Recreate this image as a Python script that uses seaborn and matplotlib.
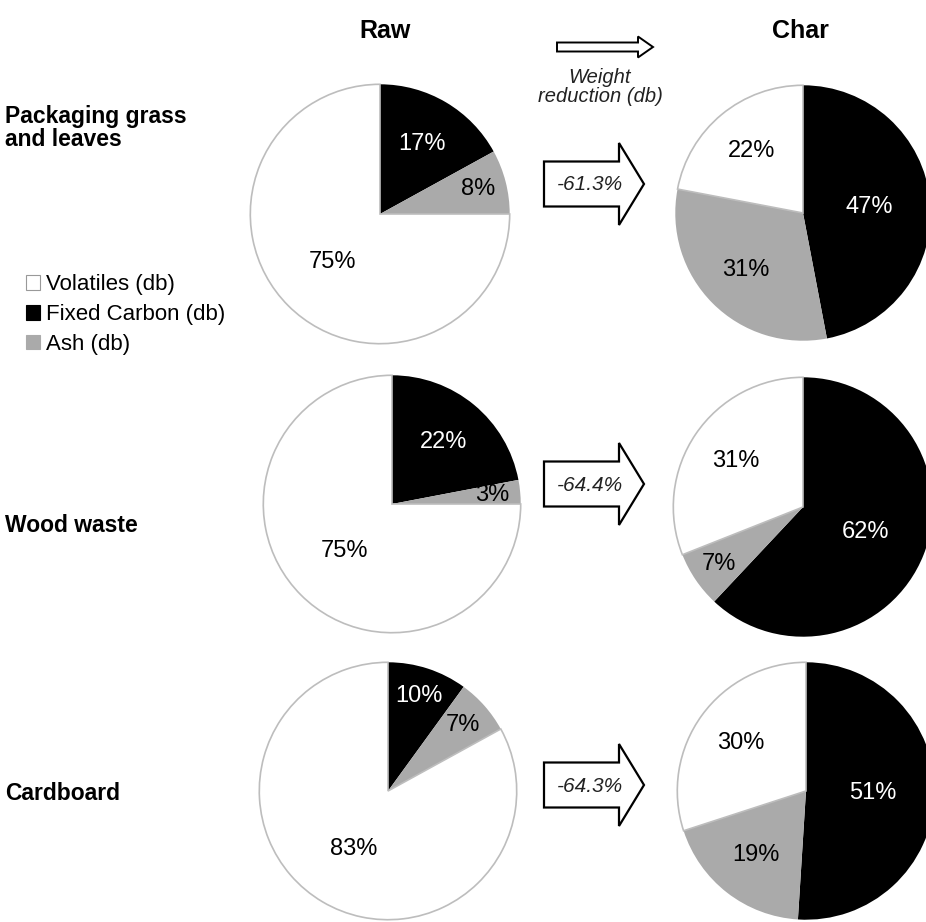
import matplotlib
matplotlib.use("Agg")
import numpy as np
from matplotlib import pyplot as plt
from matplotlib.patches import Patch, Polygon
import seaborn

# data
materials = ["Packaging grass\nand leaves", "Wood waste", "Cardboard"]
components = ["Fixed Carbon (db)", "Ash (db)", "Volatiles (db)"]
legend_order = ["Volatiles (db)", "Fixed Carbon (db)", "Ash (db)"]

raw_fixed_carbon = [17, 22, 10]
raw_ash = [8, 3, 7]
raw_volatiles = [75, 75, 83]

char_fixed_carbon = [47, 62, 51]
char_ash = [31, 7, 19]
char_volatiles = [22, 31, 30]

weight_reduction = [-61.3, -64.4, -64.3]

# style
W, H = 926, 922
colors = {"Fixed Carbon (db)": "black", "Ash (db)": "#aaaaaa", "Volatiles (db)": "white"}
label_colors = {"Fixed Carbon (db)": "white", "Ash (db)": "black", "Volatiles (db)": "black"}
edge = "#bdbdbd"

seaborn.set_theme(style="white")
plt.rcParams["font.family"] = ["Liberation Sans", "DejaVu Sans"]
plt.rcParams["text.color"] = "black"

fig = plt.figure(figsize=(W / 100, H / 100), dpi=100)

# pixel layout of the pies (centre x, centre y, radius)
raw_pos = [(380, 214, 131), (392, 504, 130), (388, 791, 130)]
char_pos = [(803, 213, 129), (803, 507, 131), (806, 791, 130)]
arrow_y = [184, 484, 785]
label_y = [128, 525, 793]


def pie_axes(cx, cy, r):
    return fig.add_axes([(cx - r) / W, 1 - (cy + r) / H, 2 * r / W, 2 * r / H])


def label_radius(pct):
    # excel-like placement: big slices nearer the centre, tiny ones near the rim
    if pct >= 45:
        return 0.52
    if pct <= 10:
        return 0.78
    return 0.63


def draw_pie(ax, values):
    wedges, _, autotexts = ax.pie(
        values,
        colors=[colors[c] for c in components],
        startangle=90,
        counterclock=False,
        autopct="%d%%",
        radius=1,
        wedgeprops=dict(linewidth=0),
        textprops=dict(fontsize=17),
    )
    total = sum(values)
    for w, t, c, v in zip(wedges, autotexts, components, values):
        t.set_color(label_colors[c])
        mid = np.deg2rad((w.theta1 + w.theta2) / 2)
        r = label_radius(100 * v / total)
        t.set_position((r * np.cos(mid), r * np.sin(mid)))
        if c == "Volatiles (db)":
            w.set_edgecolor(edge)
            w.set_linewidth(1.2)
    # pie() resets the limits, so set them afterwards
    ax.set_xlim(-1.01, 1.01)
    ax.set_ylim(-1.01, 1.01)
    ax.set_aspect("equal")
    ax.axis("off")
    return wedges


for i in range(3):
    draw_pie(pie_axes(*raw_pos[i]), [raw_fixed_carbon[i], raw_ash[i], raw_volatiles[i]])
    draw_pie(pie_axes(*char_pos[i]), [char_fixed_carbon[i], char_ash[i], char_volatiles[i]])

# overlay in pixel coordinates for arrows and labels
ov = fig.add_axes([0, 0, 1, 1])
ov.set_xlim(0, W)
ov.set_ylim(H, 0)
ov.axis("off")


def block_arrow(x0, yc, length, shaft_h, head_h, head_len, lw):
    xh = x0 + length - head_len
    pts = [
        (x0, yc - shaft_h / 2), (xh, yc - shaft_h / 2), (xh, yc - head_h / 2),
        (x0 + length, yc), (xh, yc + head_h / 2), (xh, yc + shaft_h / 2),
        (x0, yc + shaft_h / 2),
    ]
    ov.add_patch(Polygon(pts, closed=True, facecolor="white", edgecolor="black",
                         linewidth=lw, joinstyle="miter"))


for yc, val in zip(arrow_y, weight_reduction):
    block_arrow(544, yc, 100, 45, 82, 25, 1.6)
    ov.text(590, yc + 1, f"{val:.1f}%", ha="center", va="center",
            fontsize=15, style="italic", color="#222222")

# header
block_arrow(557, 47, 96, 9, 21, 15, 1.4)
ov.text(385, 31, "Raw", ha="center", va="center", fontsize=18, fontweight="bold")
ov.text(800, 31, "Char", ha="center", va="center", fontsize=18, fontweight="bold")
ov.text(600, 87, "Weight\nreduction (db)", ha="center", va="center",
        fontsize=14.5, style="italic", linespacing=1.05, color="#222222")

# row labels
for name, cy in zip(materials, label_y):
    ov.text(5, cy, name, ha="left", va="center", fontsize=16.5,
            fontweight="bold", linespacing=1.05)

handles = [Patch(facecolor=colors[c], edgecolor="#999999" if c == "Volatiles (db)" else colors[c],
                 linewidth=0.8) for c in legend_order]
fig.legend(handles, legend_order, loc="upper left",
           bbox_to_anchor=(26 / W, 1 - 274 / H), frameon=False, fontsize=16,
           handlelength=0.65, handleheight=0.65, handletextpad=0.25,
           labelspacing=0.4, borderaxespad=0, borderpad=0)

fig.savefig("out.png", dpi=100)
